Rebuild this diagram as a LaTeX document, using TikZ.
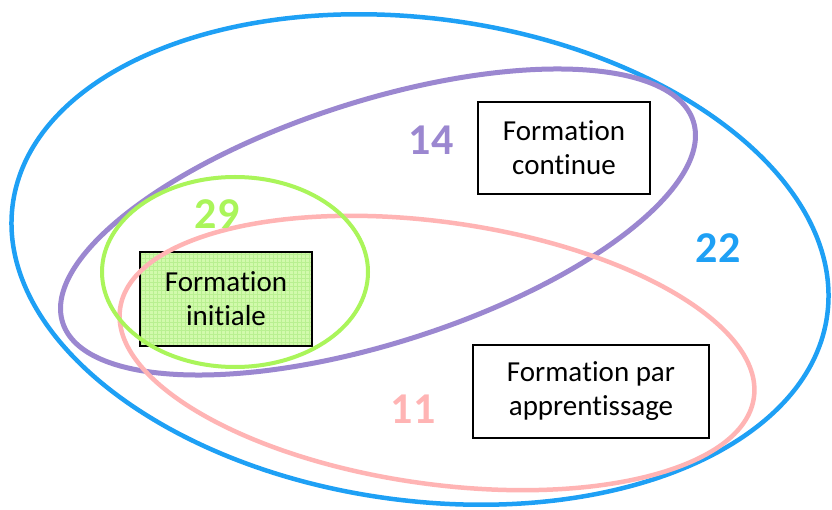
\documentclass[tikz,border=0pt]{standalone}
\usepackage{fontspec}
\setmainfont[Ligatures={NoCommon,NoContextual}]{Carlito}
\definecolor{cblue}{RGB}{30,160,245}
\definecolor{cpurple}{RGB}{155,135,208}
\definecolor{cpink}{RGB}{255,180,180}
\definecolor{cgreen}{RGB}{170,245,90}
\definecolor{initfill}{RGB}{210,250,172}
\definecolor{initgrid}{RGB}{185,240,145}
\tikzset{
  setline/.style={line width=4.5pt},
  box/.style={draw=black, line width=1.6pt, fill=white, align=center, inner sep=0pt,
    font=\fontsize{29}{34}\selectfont},
  count/.style={inner sep=0pt, font=\fontsize{44}{50}\selectfont\bfseries},
}
\begin{document}
\begin{tikzpicture}[x=1pt,y=1pt]
\useasboundingbox (0,0) rectangle (832,509);
\fill[white] (0,0) rectangle (832,509);
% Formation initiale box (under the set outlines)
\node[box, fill=initfill, minimum width=172pt, minimum height=94pt,
  path picture={\draw[initgrid, line width=0.5pt]
    (path picture bounding box.south west) grid[step=4pt] (path picture bounding box.north east);}]
  (ini) at (226,210) {Forma\kern0pt tion\\ini\kern0pt tiale};
% sets
\draw[setline, cblue, rotate around={-7.8:(420,249.5)}] (420,249.5) ellipse[x radius=411pt, y radius=241pt];
\draw[setline, cpurple, line width=5pt, rotate around={17.7:(378,287)}] (378,287) ellipse[x radius=331pt, y radius=121pt];
\draw[setline, cpink, rotate around={-8:(437,156)}] (437,156) ellipse[x radius=320pt, y radius=131pt];
\draw[setline, cgreen, line width=4pt] (235,237) ellipse[x radius=133pt, y radius=95pt];
% other boxes
\node[box, minimum width=172pt, minimum height=92pt] (cont) at (564,361) {Forma\kern0pt tion\\continue};
\node[box, minimum width=236pt, minimum height=93pt] (app) at (591,117.5) {Forma\kern0pt tion par\\apprentissage};
% counts
\node[count, text=cpurple] (n14) at (431,369) {14};
\node[count, text=cgreen] (n29) at (217,295) {29};
\node[count, text=cblue] (n22) at (718,261) {22};
\node[count, text=cpink] (n11) at (413,100) {11};
\end{tikzpicture}
\end{document}
